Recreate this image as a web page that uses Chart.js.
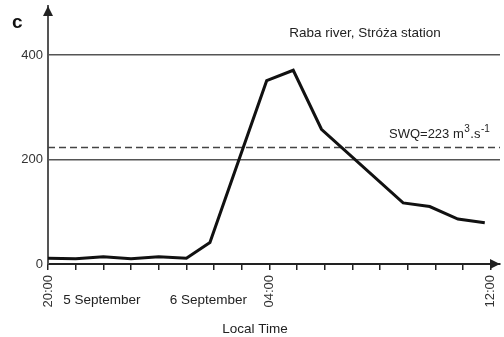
<!DOCTYPE html>
<html>
<head>
<meta charset="utf-8">
<script src="https://cdn.jsdelivr.net/npm/chart.js@4/dist/chart.umd.min.js"></script>
<style>
  html, body { margin: 0; padding: 0; background: #fff; }
  #wrap { width: 504px; height: 337px; position: relative; }
</style>
</head>
<body>
<div id="wrap"><canvas id="chart"></canvas></div>
<script>
// hours after 20:00 on 5 September, discharge in m3/s
var hours = [0, 1, 2, 3, 4, 5, 5.85, 7.9, 8.86, 9.88, 12.83, 13.79, 14.81, 15.78];
var discharge = [11, 10, 14, 10, 14, 11, 41, 351, 371, 258, 117, 110, 86, 79];

var swq = 223;
var yTicks = [0, 200, 400];
var xTickHours = [0, 8, 16];
var xTickText = ['20:00', '04:00', '12:00'];
var dayLabels = ['5 September', '6 September'];
var dayLabelHours = [0.55, 4.4];

var FONT = '"Liberation Sans", Arial, sans-serif';

var xMax = 16.33;
var yMax = 494;

// arrows, panel letter and free text
var extras = {
  id: 'extras',
  afterDraw: function(chart) {
    var ctx = chart.ctx;
    var a = chart.chartArea;
    var x = chart.scales.x;
    var y = chart.scales.y;
    ctx.save();

    // axis arrows
    ctx.fillStyle = '#222';
    ctx.beginPath();
    ctx.moveTo(a.left, a.top);
    ctx.lineTo(a.left - 5, a.top + 10);
    ctx.lineTo(a.left + 5, a.top + 10);
    ctx.closePath();
    ctx.fill();
    ctx.beginPath();
    ctx.moveTo(a.right, a.bottom);
    ctx.lineTo(a.right - 10, a.bottom - 5);
    ctx.lineTo(a.right - 10, a.bottom + 5);
    ctx.closePath();
    ctx.fill();

    // panel letter
    ctx.fillStyle = '#111';
    ctx.font = 'bold 19px ' + FONT;
    ctx.textAlign = 'left';
    ctx.textBaseline = 'alphabetic';
    ctx.fillText('c', 12, 28);

    ctx.fillStyle = '#222';
    ctx.font = '13.5px ' + FONT;
    ctx.textAlign = 'center';
    ctx.fillText('Raba river, Stróża station', 365, 37);

    // SWQ label with superscripts
    var sx = 389, sy = y.getPixelForValue(swq) - 9.5;
    var parts = [['SWQ=' + swq + ' m', 13, 0], ['3', 10, -6], ['.s', 13, 0], ['-1', 10, -6]];
    ctx.textAlign = 'left';
    parts.forEach(function(p) {
      ctx.font = p[1] + 'px ' + FONT;
      ctx.fillText(p[0], sx, sy + p[2]);
      sx += ctx.measureText(p[0]).width + 0.5;
    });

    ctx.font = '13.5px ' + FONT;
    dayLabels.forEach(function(t, i) {
      ctx.fillText(t, x.getPixelForValue(dayLabelHours[i]), a.bottom + 40);
    });

    ctx.textAlign = 'center';
    ctx.fillText('Local Time', 255, 333);
    ctx.restore();
  }
};

new Chart(document.getElementById('chart'), {
  type: 'line',
  data: {
    datasets: [
      {
        data: hours.map(function(h, i) { return { x: h, y: discharge[i] }; }),
        borderColor: '#111',
        borderWidth: 3,
        pointRadius: 0,
        tension: 0,
        fill: false
      },
      {
        data: [{ x: 0, y: swq }, { x: xMax, y: swq }],
        borderColor: '#444',
        borderWidth: 1.5,
        borderDash: [7, 4],
        pointRadius: 0,
        fill: false
      }
    ]
  },
  options: {
    responsive: true,
    maintainAspectRatio: false,
    animation: false,
    layout: { padding: { left: 0, right: 4, top: 6, bottom: 0 } },
    plugins: {
      legend: { display: false },
      tooltip: { enabled: false }
    },
    scales: {
      x: {
        type: 'linear',
        min: 0,
        max: xMax,
        afterBuildTicks: function(axis) {
          var t = [];
          for (var h = 0; h <= 16; h++) t.push({ value: h });
          axis.ticks = t;
        },
        afterFit: function(scale) {
          scale.height = 73;
          scale.paddingLeft = 0;
          scale.paddingRight = 0;
        },
        ticks: {
          autoSkip: false,
          minRotation: 90,
          maxRotation: 90,
          padding: 5,
          color: '#333',
          font: { size: 13, family: FONT },
          callback: function(v) {
            var i = xTickHours.indexOf(v);
            return i >= 0 ? xTickText[i] : '';
          }
        },
        grid: {
          drawOnChartArea: false,
          drawTicks: true,
          tickLength: 6,
          color: '#222',
          lineWidth: 1.5
        },
        border: { color: '#222', width: 2 }
      },
      y: {
        min: 0,
        max: yMax,
        afterBuildTicks: function(axis) {
          axis.ticks = yTicks.map(function(v) { return { value: v }; });
        },
        afterFit: function(scale) {
          scale.width = 48;
          scale.paddingTop = 0;
          scale.paddingBottom = 0;
        },
        ticks: {
          padding: 5,
          color: '#333',
          font: { size: 13, family: FONT }
        },
        grid: {
          drawTicks: false,
          color: function(c) { return c.tick && c.tick.value === 0 ? 'rgba(0,0,0,0)' : '#555'; },
          lineWidth: 1.5
        },
        border: { color: '#555', width: 2 }
      }
    }
  },
  plugins: [extras]
});
</script>
</body>
</html>
